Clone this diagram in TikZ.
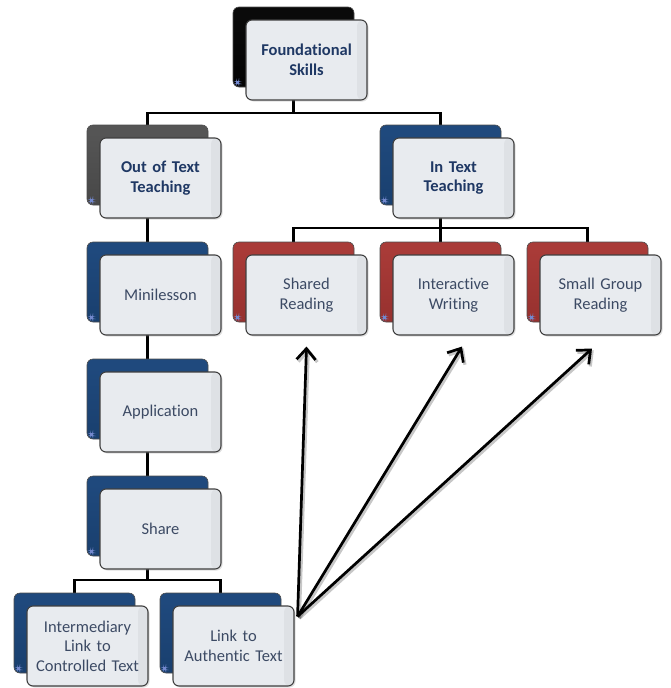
\documentclass[tikz,border=0pt]{standalone}
\usepackage{fontspec}
\setmainfont{Carlito}[Ligatures={NoCommon,NoRare,NoDiscretionary}]
\usetikzlibrary{arrows.meta,calc,shadows}
\pgfdeclarelayer{bg}
\pgfsetlayers{bg,main}
\definecolor{titlecol}{HTML}{1F3864}
\definecolor{plaincol}{HTML}{3C4A64}
\definecolor{ftop}{HTML}{E8EBEF}
\definecolor{fbot}{HTML}{D3D3D3}
\pgfdeclareverticalshading[bkA,bkB,bkC]{backsh}{100bp}{color(0bp)=(bkC); color(70bp)=(bkB); color(88bp)=(bkB); color(93bp)=(bkA); color(97bp)=(bkA); color(100bp)=(bkB)}
\pgfdeclareverticalshading{frontsh}{100bp}{color(0bp)=(fbot); color(17bp)=(fbot); color(27bp)=(ftop); color(100bp)=(ftop)}
\tikzset{
  backbox/.style={rounded corners=6pt, minimum width=121pt, minimum height=80pt,
    inner sep=0pt, draw=black!70, line width=0.6pt, shading=backsh,
    path picture={\fill[white!70!cyan!60!blue] ([xshift=3pt,yshift=3pt]path picture bounding box.south west) rectangle ++(3pt,3pt);}},
  blk/.style={backbox, /utils/exec={\definecolor{bkA}{HTML}{4A4A4A}\definecolor{bkB}{HTML}{0A0A0A}\definecolor{bkC}{HTML}{000000}}},
  gry/.style={backbox, /utils/exec={\definecolor{bkA}{HTML}{8A8A8A}\definecolor{bkB}{HTML}{555555}\definecolor{bkC}{HTML}{404040}}},
  nvy/.style={backbox, /utils/exec={\definecolor{bkA}{HTML}{5A84BA}\definecolor{bkB}{HTML}{1F497D}\definecolor{bkC}{HTML}{163A66}}},
  red/.style={backbox, /utils/exec={\definecolor{bkA}{HTML}{D87470}\definecolor{bkB}{HTML}{A93B38}\definecolor{bkC}{HTML}{8C2B29}}},
  frontbox/.style={rounded corners=6pt, minimum width=121pt, minimum height=80pt,
    inner sep=2pt, text width=117pt, align=center, draw=black!75, line width=1.1pt,
    shading=frontsh, drop shadow={opacity=0.25, shadow xshift=1.5pt, shadow yshift=-1.5pt},
    path picture={\fill[black,opacity=0.04] ([xshift=-10pt]path picture bounding box.north east) rectangle (path picture bounding box.south east);}},
  ttl/.style={frontbox, font=\fontsize{16.5}{19.5}\selectfont\bfseries, text=titlecol},
  pln/.style={frontbox, font=\fontsize{16.5}{19.5}\selectfont, text=plaincol},
  conn/.style={draw=black, line width=2.2pt},
  arr/.style={draw=black, line width=2.7pt, -{Straight Barb[length=11pt,width=19pt,line width=2.7pt]}},
  arrsh/.style={draw=black, opacity=0.22, line width=3.2pt, -{Straight Barb[length=11pt,width=19pt,line width=3.2pt]}}
}
\newcommand\twobox[6]{%
  \node[#4] (#1-b) at (#2+60.5,#3+40) {};
  \node[#5] (#1) at (#2+73.5,#3+53) {#6};
}
\begin{document}
\begin{tikzpicture}[x=1pt,y=-1pt]
\path[use as bounding box] (0,0) rectangle (670,688);
\twobox{found}{233}{7}{blk}{ttl}{Foundational\\Skills}
\twobox{out}{87}{125}{gry}{ttl}{Out of Text\\Teaching}
\twobox{intext}{380}{125}{nvy}{ttl}{In Text\\Teaching}
\twobox{mini}{87}{242}{nvy}{pln}{Minilesson}
\twobox{shared}{233}{242}{red}{pln}{Shared\\Reading}
\twobox{inter}{380}{242}{red}{pln}{Interactive\\Writing}
\twobox{small}{527}{242}{red}{pln}{Small Group\\Reading}
\twobox{app}{87}{359}{nvy}{pln}{Application}
\twobox{share}{87}{476}{nvy}{pln}{Share}
\twobox{interm}{14}{593}{nvy}{pln}{Intermediary\\Link to\\Controlled Text}
\twobox{link}{160}{593}{nvy}{pln}{Link to\\Authentic Text}
\begin{pgfonlayer}{bg}
\draw[conn] (found-b.south) -- ++(0,26) -| (out-b.north);
\draw[conn] (found-b.south) -- ++(0,26) -| (intext-b.north);
\draw[conn] (intext-b.south) -- ++(0,23) -| (shared-b.north);
\draw[conn] (intext-b.south) -- ++(0,23) -| (inter-b.north);
\draw[conn] (intext-b.south) -- ++(0,23) -| (small-b.north);
\draw[conn] (out-b.south) -- (mini-b.north);
\draw[conn] (mini-b.south) -- (app-b.north);
\draw[conn] (app-b.south) -- (share-b.north);
\draw[conn] (share-b.south) -- ++(0,24) -| (interm-b.north);
\draw[conn] (share-b.south) -- ++(0,24) -| (link-b.north);
\end{pgfonlayer}
\coordinate (src) at ($(link.north east)+(3,11)$);
\coordinate (t1) at ($(shared.south)+(0,11)$);
\coordinate (t2) at ($(inter.south)+(8.5,11)$);
\coordinate (t3) at ($(small.south)+(-8.5,13)$);
\begin{scope}[transform canvas={shift={(1.8pt,-1.8pt)}}]
\draw[arrsh] (src) -- (t1);
\draw[arrsh] (src) -- (t2);
\draw[arrsh] (src) -- (t3);
\end{scope}
\draw[arr] (src) -- (t1);
\draw[arr] (src) -- (t2);
\draw[arr] (src) -- (t3);
\end{tikzpicture}
\end{document}
